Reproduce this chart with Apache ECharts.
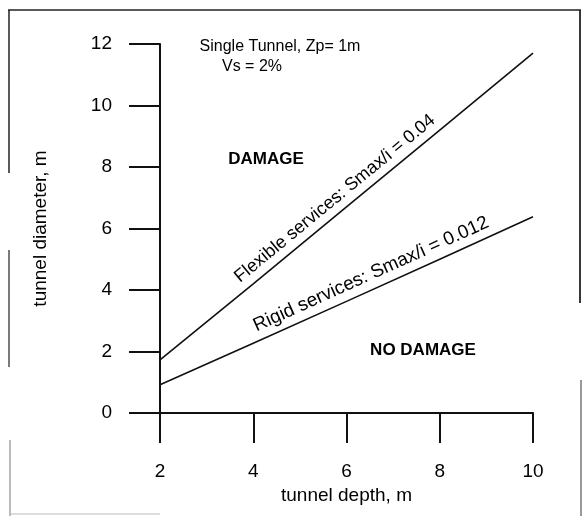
<!DOCTYPE html>
<html>
<head>
<meta charset="utf-8">
<script src="https://cdn.jsdelivr.net/npm/echarts@6/dist/echarts.min.js"></script>
<style>
html,body{margin:0;padding:0;background:#fff;}
#c{width:585px;height:516px;}
</style>
</head>
<body>
<div id="c"></div>
<script>
// ---- data ----
const depth = [2, 4, 6, 8, 10];
const flexible = [1.73, 4.2, 6.7, 9.2, 11.7];
const rigid = [0.92, 2.27, 3.63, 5.0, 6.38];
const xTicks = [2, 4, 6, 8, 10];
const yTicks = [0, 2, 4, 6, 8, 10, 12];
const flexLabel = 'Flexible services: Smax/i = 0.04';
const rigidLabel = 'Rigid services: Smax/i = 0.012';
const title1 = 'Single Tunnel, Zp= 1m';
const title2 = 'Vs = 2%';
const zoneTop = 'DAMAGE';
const zoneBottom = 'NO DAMAGE';
const xName = 'tunnel depth, m';
const yName = 'tunnel diameter, m';

const FONT = '"Liberation Sans", Arial, sans-serif';
const chart = echarts.init(document.getElementById('c'), null, {renderer: 'canvas'});

const pairs = (xs, ys) => xs.map((x, i) => [x, ys[i]]);

chart.setOption({
  animation: false,
  backgroundColor: '#fff',
  grid: {left: 160, right: 52, top: 44, bottom: 103, containLabel: false},
  xAxis: {
    type: 'value', min: xTicks[0], max: xTicks[xTicks.length - 1], interval: 2,
    name: xName, nameLocation: 'middle', nameGap: 68,
    nameTextStyle: {color: '#000', fontSize: 19, fontFamily: FONT},
    axisLine: {show: true, lineStyle: {color: '#111', width: 2}},
    axisTick: {show: true, inside: false, length: 30, lineStyle: {color: '#111', width: 2}},
    axisLabel: {color: '#000', fontSize: 19, fontFamily: FONT, margin: 49},
    splitLine: {show: false}
  },
  yAxis: {
    type: 'value', min: yTicks[0], max: yTicks[yTicks.length - 1], interval: 2,
    name: yName, nameLocation: 'middle', nameGap: 110, nameRotate: 90,
    nameTextStyle: {color: '#000', fontSize: 19, fontFamily: FONT},
    axisLine: {show: true, onZero: false, lineStyle: {color: '#111', width: 2}},
    axisTick: {show: true, inside: false, length: 31, lineStyle: {color: '#111', width: 2}},
    axisLabel: {color: '#000', fontSize: 19, fontFamily: FONT, margin: 48},
    splitLine: {show: false}
  },
  series: [
    {type: 'line', name: 'flexible', data: pairs(depth, flexible), symbol: 'none',
     lineStyle: {color: '#111', width: 1.6}},
    {type: 'line', name: 'rigid', data: pairs(depth, rigid), symbol: 'none',
     lineStyle: {color: '#111', width: 1.6}}
  ]
});

function interp(xs, ys, x) {
  for (let i = 0; i < xs.length - 1; i++) {
    if (x >= xs[i] && x <= xs[i + 1]) {
      const t = (x - xs[i]) / (xs[i + 1] - xs[i]);
      return ys[i] + t * (ys[i + 1] - ys[i]);
    }
  }
  return ys[ys.length - 1];
}

function lineLabel(xs, ys, startX, text, perp, size) {
  const pA = chart.convertToPixel({gridIndex: 0}, [xs[0], ys[0]]);
  const pB = chart.convertToPixel({gridIndex: 0}, [xs[xs.length - 1], ys[ys.length - 1]]);
  const a = Math.atan2(pA[1] - pB[1], pB[0] - pA[0]);
  const p = chart.convertToPixel({gridIndex: 0}, [startX, interp(xs, ys, startX)]);
  const x = p[0] - Math.sin(a) * perp;
  const y = p[1] - Math.cos(a) * perp;
  return {
    type: 'text', x: x, y: y, rotation: a, z: 10,
    style: {text: text, fill: '#000', font: size + 'px ' + FONT,
            textAlign: 'left', textVerticalAlign: 'bottom', align: 'left', verticalAlign: 'bottom'}
  };
}

function txt(x, y, text, size, bold) {
  return {
    type: 'text', x: x, y: y, z: 10,
    style: {text: text, fill: '#000', font: (bold ? 'bold ' : '') + size + 'px ' + FONT,
            textAlign: 'center', textVerticalAlign: 'middle', align: 'center', verticalAlign: 'middle'}
  };
}

function seg(x1, y1, x2, y2, w, c) {
  return {type: 'line', z: 1, shape: {x1: x1, y1: y1, x2: x2, y2: y2},
          style: {stroke: c || '#222', lineWidth: w || 1.5}};
}

chart.setOption({
  graphic: [
    // scanned frame
    seg(8, 10, 581, 10, 1.5),
    seg(9, 10, 9, 173, 1.5),
    seg(9, 250, 9, 367, 1.2),
    seg(10, 440, 10, 516, 1, '#777'),
    seg(580, 10, 580, 303, 1.8),
    seg(581, 380, 581, 516, 1.2, '#555'),
    seg(10, 514, 160, 514, 1, '#bbb'),
    // annotations
    txt(280, 47, title1, 16, false),
    txt(252, 67, title2, 16, false),
    txt(266, 159, zoneTop, 17, true),
    txt(423, 350, zoneBottom, 17, true),
    lineLabel(depth, flexible, 3.84, flexLabel, 5, 18),
    lineLabel(depth, rigid, 4.15, rigidLabel, 5, 19)
  ]
});
</script>
</body>
</html>
